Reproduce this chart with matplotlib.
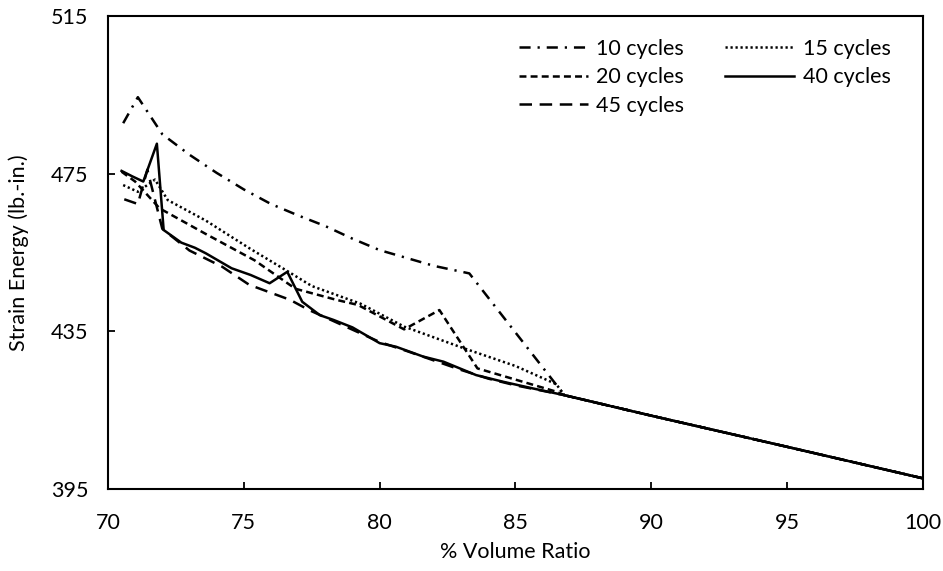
import matplotlib
matplotlib.use("Agg")
import matplotlib.pyplot as plt

# Data
x10 = [70.56, 71.1, 72.0, 73.0, 74.0, 75.0, 76.0, 77.0, 78.0, 79.0, 80.0, 81.0, 82.0, 83.3, 86.8, 90, 95, 100]
y10 = [487.8, 494.4, 485.0, 479.8, 475.2, 471.0, 467.3, 464.4, 461.7, 458.5, 455.6, 453.6, 451.6, 449.7, 418.8, 413.6, 405.7, 397.7]

x15 = [70.56, 71.1, 71.73, 72.2, 73.6, 75.2, 76.6, 77.5, 78.5, 79.3, 80.9, 83.1, 85.0, 86.5, 86.8, 90, 95, 100]
y15 = [472.1, 470.4, 473.5, 468.3, 463.1, 456.1, 450.3, 446.5, 444.0, 442.0, 436.2, 430.7, 426.2, 421.6, 418.8, 413.6, 405.7, 397.7]

x20 = [70.5, 71.0, 71.9, 73.6, 75.4, 76.9, 78.4, 79.2, 80.9, 82.2, 83.6, 86.5, 86.8, 90, 95, 100]
y20 = [475.5, 473.0, 466.2, 459.7, 453.0, 445.8, 443.0, 441.7, 435.5, 440.4, 425.6, 419.7, 418.8, 413.6, 405.7, 397.7]

x40 = [70.5, 70.9, 71.3, 71.8, 72.05, 72.7, 73.2, 73.6, 74.55, 75.25, 75.95, 76.6, 77.15, 77.8, 78.3, 79.0,
       80.0, 80.6, 81.6, 82.35, 83.55, 84.55, 85.65, 86.8, 90, 95, 100]
y40 = [475.7, 474.3, 473.0, 482.6, 460.7, 457.5, 456.2, 454.8, 451.0, 449.3, 447.2, 450.1, 442.5, 439.1, 437.9, 436.0,
       432.0, 431.1, 428.6, 427.3, 423.9, 422.2, 420.5, 418.8, 413.6, 405.7, 397.7]

x45 = [70.6, 71.1, 71.45, 72.0, 73.0, 74.2, 75.2, 76.7, 77.4, 78.3, 80.0, 81.0, 82.0, 83.0, 84.0, 85.0, 86.8, 90, 95, 100]
y45 = [468.5, 467.3, 476.0, 461.0, 455.5, 451.4, 446.8, 443.0, 440.4, 437.6, 432.3, 430.0, 427.6, 425.2, 423.0, 421.3,
       418.8, 413.6, 405.7, 397.7]

x_ticks = [70, 75, 80, 85, 90, 95, 100]
y_ticks = [395, 435, 475, 515]

plt.rcParams['font.family'] = ['Lato', 'DejaVu Sans']
plt.rcParams['lines.scale_dashes'] = False

fig = plt.figure(figsize=(9.43, 5.71), dpi=100)
ax = fig.add_axes([0.1145, 0.1436, 0.8643, 0.8284])

lw = 1.8
l10, = ax.plot(x10, y10, color="black", lw=lw, dashes=(8, 5, 1.6, 5), label="10 cycles")
l15, = ax.plot(x15, y15, color="black", lw=lw, dashes=(1.6, 2.0), label="15 cycles")
l20, = ax.plot(x20, y20, color="black", lw=lw, dashes=(5, 3), label="20 cycles")
l40, = ax.plot(x40, y40, color="black", lw=lw, label="40 cycles")
l45, = ax.plot(x45, y45, color="black", lw=lw, dashes=(9, 5.5), label="45 cycles")

# Axes and ticks
fs = 15.5
ax.set_xlim(70, 100)
ax.set_ylim(395, 515)
ax.set_xticks(x_ticks)
ax.set_yticks(y_ticks)
ax.tick_params(direction="in", length=5, width=1.3, labelsize=fs, pad=14, color="black")
ax.tick_params(axis="x", pad=17)
for s in ax.spines.values():
    s.set_linewidth(1.5)

ax.set_xlabel("% Volume Ratio", fontsize=fs)
ax.xaxis.set_label_coords(0.5, -0.134)
ax.xaxis.label.set_va("center")
ax.set_ylabel("Strain Energy (lb.-in.)", fontsize=fs)
ax.yaxis.set_label_coords(-0.110, 0.5)
ax.yaxis.label.set_va("center")

# Legend in two columns
ax.legend([l10, l20, l45, l15, l40], ["10 cycles", "20 cycles", "45 cycles", "15 cycles", "40 cycles"],
          ncol=2, frameon=False, fontsize=fs, loc="upper left", bbox_to_anchor=(0.504, 0.952),
          borderpad=0, borderaxespad=0, handlelength=3.2, handletextpad=0.4,
          columnspacing=1.9, labelspacing=0.4)

fig.savefig("out.png", dpi=100)
